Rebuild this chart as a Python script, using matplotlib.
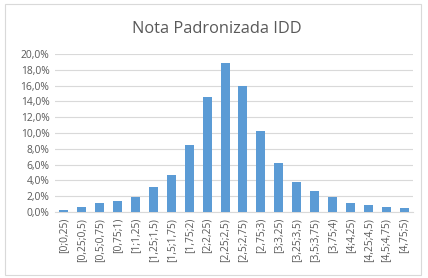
import numpy as np
import matplotlib.pyplot as plt
from matplotlib.patches import Rectangle
from matplotlib.ticker import FuncFormatter

# Dados
categorias = ["[0;0,25)", "[0,25;0,5)", "[0,5;0,75)", "[0,75;1)", "[1;1,25)",
              "[1,25;1,5)", "[1,5;1,75)", "[1,75;2)", "[2;2,25)", "[2,25;2,5)",
              "[2,5;2,75)", "[2,75;3)", "[3;3,25)", "[3,25;3,5)", "[3,5;3,75)",
              "[3,75;4)", "[4;4,25)", "[4,25;4,5)", "[4,5;4,75)", "[4,75;5)"]
percentuais = [0.3, 0.6, 1.1, 1.4, 1.9, 3.2, 4.7, 8.5, 14.6, 18.8,
               15.9, 10.3, 6.25, 3.85, 2.65, 1.9, 1.15, 0.85, 0.6, 0.5]

plt.rcParams['font.family'] = ['Open Sans', 'DejaVu Sans']

fig = plt.figure(figsize=(4.28, 2.78), dpi=100)
ax = fig.add_axes([0.1285, 0.237, 0.8365, 0.569])

x = np.arange(len(categorias))
ax.bar(x, percentuais, width=0.5, color='#5B9BD5', zorder=3)

ax.set_ylim(0, 20)
ax.set_xlim(-0.5, len(categorias) - 0.5)
ax.set_yticks(np.arange(0, 21, 2))
ax.yaxis.set_major_formatter(FuncFormatter(lambda v, p: f"{v:.1f}%".replace('.', ',')))
ax.set_xticks(x)
ax.set_xticklabels(categorias, rotation=90)
ax.tick_params(length=0, labelsize=7.4, colors='#595959', pad=4)
ax.grid(axis='y', color='#D9D9D9', linewidth=0.8, zorder=0)
for s in ['top', 'right', 'left']:
    ax.spines[s].set_visible(False)
ax.spines['bottom'].set_color('#D9D9D9')

fig.text(0.506, 0.895, "Nota Padronizada IDD", ha='center', va='center',
         fontsize=11.8, color='#595959')

fig.patches.append(Rectangle((0.012, 0.01), 0.972, 0.975, transform=fig.transFigure,
                             fill=False, edgecolor='#D9D9D9', linewidth=0.8))

fig.savefig('out.png', dpi=100)
